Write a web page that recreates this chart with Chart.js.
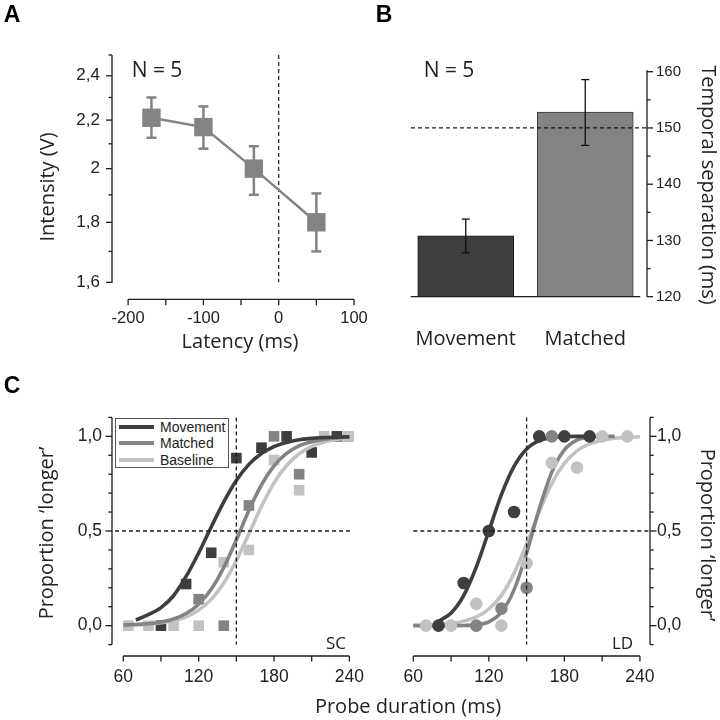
<!DOCTYPE html>
<html>
<head>
<meta charset="utf-8">
<title>Figure</title>
<script src="https://cdn.jsdelivr.net/npm/chart.js@4.4.1/dist/chart.umd.min.js"></script>
<style>
  html, body { margin:0; padding:0; background:#ffffff; }
  #fig { position:relative; width:720px; height:720px; overflow:hidden; background:#fff; }
  #fig canvas { position:absolute; left:0; top:0; }
  .txt { position:absolute; white-space:nowrap; line-height:1; color:#222; font-family:"Open Sans", sans-serif; font-size:20px; transform:translate(-50%,-50%); }
  .rotL { transform:translate(-50%,-50%) rotate(-90deg); }
  .rotR { transform:translate(-50%,-50%) rotate(90deg); }
  .letter { font-family:"Liberation Sans", Arial, sans-serif; font-weight:bold; font-size:23px; color:#000; }
  #legend { position:absolute; left:115px; top:418px; width:112px; height:48px; border:1px solid #555; background:#fff; }
  #legend .row { position:absolute; left:0; height:16px; width:112px; }
  #legend .sw { position:absolute; left:3px; top:6px; width:35px; height:4px; }
  #legend .lb { position:absolute; left:44px; top:0; font-family:"Liberation Sans", Arial, sans-serif; font-size:14px; line-height:16px; color:#222; }
</style>
</head>
<body>
<div id="fig">
  <canvas id="cA" width="720" height="720"></canvas>
  <canvas id="cB" width="720" height="720"></canvas>
  <canvas id="cSC" width="720" height="720"></canvas>
  <canvas id="cLD" width="720" height="720"></canvas>

  <div class="txt letter" style="left:12px;top:13.5px;">A</div>
  <div class="txt letter" style="left:384px;top:13.5px;">B</div>
  <div class="txt letter" style="left:12px;top:384.5px;">C</div>

  <div class="txt" style="left:157px;top:69px;font-size:21px;">N = 5</div>
  <div class="txt rotL" style="left:47px;top:187px;">Intensity (V)</div>
  <div class="txt" style="left:240px;top:341px;">Latency (ms)</div>

  <div class="txt" style="left:449px;top:69px;font-size:21px;">N = 5</div>
  <div class="txt rotR" style="left:709px;top:185px;">Temporal separation (ms)</div>

  <div class="txt rotL" style="left:46px;top:533px;">Proportion ‘longer’</div>
  <div class="txt rotR" style="left:708px;top:535px;">Proportion ‘longer’</div>
  <div class="txt" style="left:408px;top:706px;">Probe duration (ms)</div>
  <div class="txt" style="left:336px;top:642px;font-size:17px;">SC</div>
  <div class="txt" style="left:622.5px;top:641.5px;font-size:17px;">LD</div>

  <div id="legend">
    <div class="row" style="top:0px;"><div class="sw" style="background:#3e3e3e;"></div><div class="lb">Movement</div></div>
    <div class="row" style="top:16px;"><div class="sw" style="background:#838383;"></div><div class="lb">Matched</div></div>
    <div class="row" style="top:33px;"><div class="sw" style="background:#c2c2c2;"></div><div class="lb">Baseline</div></div>
  </div>
</div>
<script>
// ---------------- Panel A data ----------------
const latencyMs   = [-169, -100, -33, 50];
const intensityV  = [2.21, 2.17, 2.00, 1.80];
const intensityHi = [2.30, 2.26, 2.09, 1.905];
const intensityLo = [2.125, 2.08, 1.90, 1.70];
const aXTicks  = [-200, -100, 0, 100];
const aXLabels = ['-200', '-100', '0', '100'];
const aXMinor  = [-150, -50, 50];
const aYTicks  = [1.6, 1.8, 2.0, 2.2, 2.4];
const aYLabels = ['1,6', '1,8', '2', '2,2', '2,4'];
const aYMinor  = [1.7, 1.9, 2.1, 2.3, 2.5];

// ---------------- Panel B data ----------------
const bCategories = ['Movement', 'Matched'];
const bSeparation = [130.8, 152.8];
const bSepHi      = [133.8, 158.6];
const bSepLo      = [127.8, 146.9];
const bYTicks  = [120, 130, 140, 150, 160];
const bYLabels = ['120', '130', '140', '150', '160'];
const bYMinor  = [125, 135, 145, 155];

// ---------------- Panel C axes ----------------
const cXTicks  = [60, 120, 180, 240];
const cXLabels = ['60', '120', '180', '240'];
const cXMinor  = [90, 150, 210];
const cYTicks  = [0, 0.5, 1.0];
const cYLabels = ['0,0', '0,5', '1,0'];
const cYMinor  = [-0.1, 0.1, 0.2, 0.3, 0.4, 0.6, 0.7, 0.8, 0.9, 1.1];
const cLegend  = ['Movement', 'Matched', 'Baseline'];

// ---------------- Panel C, SC (squares) ----------------
const scMoveX  = [90, 110, 130, 150, 170, 190, 210, 230];
const scMoveY  = [0, 0.22, 0.385, 0.885, 0.94, 1.0, 0.915, 1.0];
const scMatchX = [120, 140, 160, 180, 200, 239];
const scMatchY = [0.14, 0, 0.635, 1.0, 0.80, 1.0];
const scBaseX  = [64, 80, 100, 120, 140, 160, 180, 200, 220, 239];
const scBaseY  = [0, 0, 0, 0, 0.335, 0.40, 0.875, 0.715, 1.0, 1.0];

const scFitMoveX  = [70, 80, 90, 100, 110, 120, 130, 140, 150, 160, 170, 180, 190, 200, 210, 220, 230, 240];
const scFitMoveY  = [0.03, 0.058, 0.095, 0.158, 0.26, 0.384, 0.521, 0.654, 0.767, 0.852, 0.909, 0.946, 0.968, 0.982, 0.989, 0.994, 0.996, 0.998];
const scFitMatchX = [60, 70, 80, 90, 100, 110, 120, 130, 140, 150, 160, 170, 180, 190, 200, 210, 220, 230, 240];
const scFitMatchY = [0.003, 0.006, 0.010, 0.019, 0.035, 0.064, 0.113, 0.192, 0.307, 0.453, 0.608, 0.743, 0.844, 0.910, 0.950, 0.972, 0.985, 0.992, 0.996];
const scFitBaseX  = [60, 70, 80, 90, 100, 110, 120, 130, 140, 150, 160, 170, 180, 190, 200, 210, 220, 230, 240];
const scFitBaseY  = [0.003, 0.005, 0.008, 0.015, 0.027, 0.047, 0.082, 0.139, 0.225, 0.344, 0.485, 0.629, 0.754, 0.846, 0.908, 0.947, 0.970, 0.983, 0.991];

// ---------------- Panel C, LD (circles) ----------------
const ldMoveX  = [80, 100, 120, 140, 160, 180, 200];
const ldMoveY  = [0, 0.225, 0.5, 0.6, 1.0, 1.0, 1.0];
const ldMatchX = [110, 130, 150, 170];
const ldMatchY = [0, 0.09, 0.2, 1.0];
const ldBaseX  = [70, 90, 110, 130, 150, 170, 190, 210, 230];
const ldBaseY  = [0, 0, 0.115, 0, 0.33, 0.86, 0.835, 1.0, 1.0];

const ldFitMoveX  = [80, 90, 100, 110, 120, 130, 140, 150, 160, 170, 180, 190, 200];
const ldFitMoveY  = [0.023, 0.067, 0.159, 0.309, 0.5, 0.692, 0.841, 0.933, 0.977, 0.994, 0.999, 1.0, 1.0];
const ldFitMatchX = [60, 70, 80, 90, 100, 110, 120, 130, 140, 150, 160, 170, 180, 190, 200, 210, 220];
const ldFitMatchY = [0, 0, 0, 0, 0.001, 0.004, 0.02, 0.071, 0.189, 0.384, 0.616, 0.811, 0.929, 0.98, 0.996, 0.999, 1.0];
const ldFitBaseX  = [60, 70, 80, 90, 100, 110, 120, 130, 140, 150, 160, 170, 180, 190, 200, 210, 220, 230, 240];
const ldFitBaseY  = [0.002, 0.003, 0.006, 0.012, 0.024, 0.046, 0.088, 0.160, 0.276, 0.432, 0.602, 0.751, 0.857, 0.923, 0.960, 0.979, 0.990, 0.995, 0.997];

// ---------------- styling ----------------
const INK = '#1c1c1c';
const DARK = '#3e3e3e', MID = '#838383', LIGHT = '#c2c2c2';
const TICKFONT = '"Liberation Sans", Arial, sans-serif';
Chart.defaults.font.family = TICKFONT;
Chart.defaults.color = '#222';
Chart.defaults.animation = false;

function seg(ctx, x1, y1, x2, y2) { ctx.beginPath(); ctx.moveTo(x1, y1); ctx.lineTo(x2, y2); ctx.stroke(); }
function fixedTicks(values) { return function (scale) { scale.ticks = values.map(v => ({ value: v })); }; }
function pts(xs, ys) { return xs.map((x, i) => ({ x: x, y: ys[i] })); }
const noGrid = { display: false, drawTicks: false };
const noBorder = { display: false };
const quiet = { legend: { display: false }, tooltip: { enabled: false } };

// ---------------- Panel A ----------------
const panelAPlugin = {
  id: 'panelA',
  beforeDatasetsDraw(chart) {
    const { ctx, chartArea: ca, scales: { x, y } } = chart;
    ctx.save();
    ctx.strokeStyle = INK; ctx.lineWidth = 1.3;
    seg(ctx, ca.left, y.getPixelForValue(2.5), ca.left, y.getPixelForValue(1.6) + 0.6);
    aYTicks.forEach(v => { const p = y.getPixelForValue(v); seg(ctx, ca.left - 6, p, ca.left, p); });
    aYMinor.forEach(v => { const p = y.getPixelForValue(v); seg(ctx, ca.left - 3.5, p, ca.left, p); });
    const axY = ca.bottom + 17;
    seg(ctx, x.getPixelForValue(-200), axY, x.getPixelForValue(100), axY);
    aXTicks.concat(aXMinor).forEach(v => { const p = x.getPixelForValue(v); seg(ctx, p, axY, p, axY + 6); });
    ctx.setLineDash([4, 3]); ctx.lineWidth = 1.2;
    const p0 = x.getPixelForValue(0);
    seg(ctx, p0, ca.top, p0, ca.bottom);
    ctx.setLineDash([]);
    ctx.strokeStyle = MID; ctx.lineWidth = 2.5;
    latencyMs.forEach((v, i) => {
      const px = x.getPixelForValue(v), ph = y.getPixelForValue(intensityHi[i]), pl = y.getPixelForValue(intensityLo[i]);
      seg(ctx, px, ph, px, pl); seg(ctx, px - 5, ph, px + 5, ph); seg(ctx, px - 5, pl, px + 5, pl);
    });
    ctx.restore();
  }
};

new Chart(document.getElementById('cA'), {
  type: 'line',
  data: { datasets: [{
    data: pts(latencyMs, intensityV),
    borderColor: MID, backgroundColor: MID, borderWidth: 2.5,
    pointStyle: 'rect', pointRadius: 13, pointHoverRadius: 13, pointBorderWidth: 0,
    tension: 0, clip: false
  }]},
  options: {
    responsive: false, events: [],
    layout: { padding: { left: 62, right: 366, top: 55, bottom: 377.7 } },
    scales: {
      x: { type: 'linear', min: -221.4, max: 100,
        afterBuildTicks: fixedTicks(aXTicks), afterFit: s => { s.height = 60; },
        grid: noGrid, border: noBorder,
        ticks: { padding: 26, font: { size: 16.5 }, maxRotation: 0, autoSkip: false, callback: (v, i) => aXLabels[i] } },
      y: { type: 'logarithmic', min: 1.6, max: 2.5,
        afterBuildTicks: fixedTicks(aYTicks), afterFit: s => { s.width = 50; },
        grid: noGrid, border: noBorder,
        ticks: { padding: 12, font: { size: 17 }, autoSkip: false, callback: (v, i) => aYLabels[i] } }
    },
    plugins: quiet
  },
  plugins: [panelAPlugin]
});

// ---------------- Panel B ----------------
const panelBPlugin = {
  id: 'panelB',
  afterDatasetsDraw(chart) {
    const { ctx, chartArea: ca, scales: { x, y } } = chart;
    ctx.save();
    const axX = ca.right + 2;
    ctx.strokeStyle = INK; ctx.lineWidth = 1.3;
    seg(ctx, axX, y.getPixelForValue(160) - 1.5, axX, y.getPixelForValue(120));
    bYTicks.forEach(v => { const p = y.getPixelForValue(v); seg(ctx, axX, p, axX + 6, p); });
    bYMinor.forEach(v => { const p = y.getPixelForValue(v); seg(ctx, axX, p, axX + 3.5, p); });
    const half = 48;
    const b0 = y.getPixelForValue(120);
    seg(ctx, x.getPixelForValue(0) - half - 7, b0, x.getPixelForValue(1) + half + 7, b0);
    ctx.setLineDash([4, 3]); ctx.lineWidth = 1.2;
    const p150 = y.getPixelForValue(150);
    seg(ctx, ca.left + 5, p150, axX, p150);
    ctx.setLineDash([]);
    ctx.strokeStyle = '#111'; ctx.lineWidth = 1.3;
    bSeparation.forEach((v, i) => {
      const px = x.getPixelForValue(i), ph = y.getPixelForValue(bSepHi[i]), pl = y.getPixelForValue(bSepLo[i]);
      seg(ctx, px, ph, px, pl); seg(ctx, px - 4, ph, px + 4, ph); seg(ctx, px - 4, pl, px + 4, pl);
    });
    ctx.restore();
  }
};

new Chart(document.getElementById('cB'), {
  type: 'bar',
  data: { labels: bCategories, datasets: [{
    data: bSeparation, backgroundColor: [DARK, MID], borderColor: ['#151515', '#3a3a3a'],
    borderWidth: 1, barThickness: 96
  }]},
  options: {
    responsive: false, events: [],
    layout: { padding: { left: 406, right: 25, top: 71.7, bottom: 363.3 } },
    scales: {
      x: { type: 'category', afterFit: s => { s.height = 60; }, grid: noGrid, border: noBorder,
        ticks: { padding: 31, font: { family: '"Open Sans", sans-serif', size: 20 }, maxRotation: 0, callback: (v, i) => bCategories[i] } },
      y: { position: 'right', min: 120, max: 160,
        afterBuildTicks: fixedTicks(bYTicks), afterFit: s => { s.width = 50; },
        grid: noGrid, border: noBorder,
        ticks: { padding: 11, font: { size: 15 }, autoSkip: false, callback: (v, i) => bYLabels[i] } }
    },
    plugins: quiet
  },
  plugins: [panelBPlugin]
});

// ---------------- Panel C helpers ----------------
function cPlugin(id, side, hFrom) {
  return {
    id: id,
    beforeDatasetsDraw(chart) {
      const { ctx, chartArea: ca, scales: { x, y } } = chart;
      ctx.save();
      ctx.strokeStyle = INK; ctx.lineWidth = 1.3;
      const ax = side === 'left' ? ca.left : ca.right;
      const d = side === 'left' ? -1 : 1;
      seg(ctx, ax, y.getPixelForValue(1.1), ax, y.getPixelForValue(-0.1));
      cYTicks.forEach(v => { const p = y.getPixelForValue(v); seg(ctx, ax, p, ax + d * 6.5, p); });
      cYMinor.forEach(v => { const p = y.getPixelForValue(v); seg(ctx, ax, p, ax + d * 3.7, p); });
      const axY = ca.bottom + 11.4;
      seg(ctx, x.getPixelForValue(60), axY, x.getPixelForValue(240), axY);
      cXTicks.concat(cXMinor).forEach(v => { const p = x.getPixelForValue(v); seg(ctx, p, axY, p, axY + 5.5); });
      ctx.restore();
    },
    afterDatasetsDraw(chart) {
      const { ctx, chartArea: ca, scales: { x, y } } = chart;
      ctx.save();
      ctx.strokeStyle = INK; ctx.lineWidth = 1.3; ctx.setLineDash([4, 3]);
      const p150 = x.getPixelForValue(150), p05 = y.getPixelForValue(0.5);
      seg(ctx, p150, ca.top, p150, ca.bottom);
      seg(ctx, ca.left + hFrom, p05, ca.right, p05);
      ctx.restore();
    }
  };
}
function fitSet(xs, ys, color, order) {
  return { data: pts(xs, ys), showLine: true, borderColor: color, backgroundColor: color, borderWidth: 3.6,
    pointRadius: 0, pointHoverRadius: 0, cubicInterpolationMode: 'monotone', order: order, clip: false };
}
function markSet(xs, ys, color, style, r, order) {
  return { data: pts(xs, ys), showLine: false, backgroundColor: color, borderColor: color, borderWidth: 0,
    pointStyle: style, pointRadius: r, pointHoverRadius: r, order: order, clip: false };
}
function cScales(side, xmin, xmax) {
  return {
    x: { type: 'linear', min: xmin, max: xmax,
      afterBuildTicks: fixedTicks(cXTicks), afterFit: s => { s.height = 50; },
      grid: noGrid, border: noBorder,
      ticks: { padding: 22, font: { size: 17.5 }, maxRotation: 0, autoSkip: false, callback: (v, i) => cXLabels[i] } },
    y: { type: 'linear', position: side, min: -0.1, max: 1.1,
      afterBuildTicks: fixedTicks(cYTicks), afterFit: s => { s.width = (side === 'left' ? 50 : 40); },
      grid: noGrid, border: noBorder,
      ticks: { padding: side === 'left' ? 10 : 7, font: { size: 17.5 }, autoSkip: false, callback: (v, i) => cYLabels[i] } }
  };
}

// ---------------- Panel C, SC ----------------
new Chart(document.getElementById('cSC'), {
  type: 'scatter',
  data: { datasets: [
    fitSet(scFitMoveX, scFitMoveY, DARK, 1),
    fitSet(scFitMatchX, scFitMatchY, MID, 2),
    fitSet(scFitBaseX, scFitBaseY, LIGHT, 3),
    markSet(scBaseX, scBaseY, LIGHT, 'rect', 7.5, 4),
    markSet(scMatchX, scMatchY, MID, 'rect', 7.5, 5),
    markSet(scMoveX, scMoveY, DARK, 'rect', 7.5, 6)
  ]},
  options: {
    responsive: false, events: [],
    layout: { padding: { left: 62, right: 370, top: 417.4, bottom: 25.4 } },
    scales: cScales('left', 51.0, 240.5),
    plugins: quiet
  },
  plugins: [cPlugin('panelSC', 'left', 3)]
});

// ---------------- Panel C, LD ----------------
new Chart(document.getElementById('cLD'), {
  type: 'scatter',
  data: { datasets: [
    markSet(ldMoveX, ldMoveY, DARK, 'circle', 6.3, 1),
    markSet(ldMatchX, ldMatchY, MID, 'circle', 6.3, 2),
    markSet(ldBaseX, ldBaseY, LIGHT, 'circle', 6.3, 3),
    fitSet(ldFitMoveX, ldFitMoveY, DARK, 4),
    fitSet(ldFitMatchX, ldFitMatchY, MID, 5),
    fitSet(ldFitBaseX, ldFitBaseY, LIGHT, 6)
  ]},
  options: {
    responsive: false, events: [],
    layout: { padding: { left: 413.3, right: 30, top: 417.4, bottom: 25.4 } },
    scales: cScales('right', 60, 248),
    plugins: quiet
  },
  plugins: [cPlugin('panelLD', 'right', 0)]
});
</script>
</body>
</html>
